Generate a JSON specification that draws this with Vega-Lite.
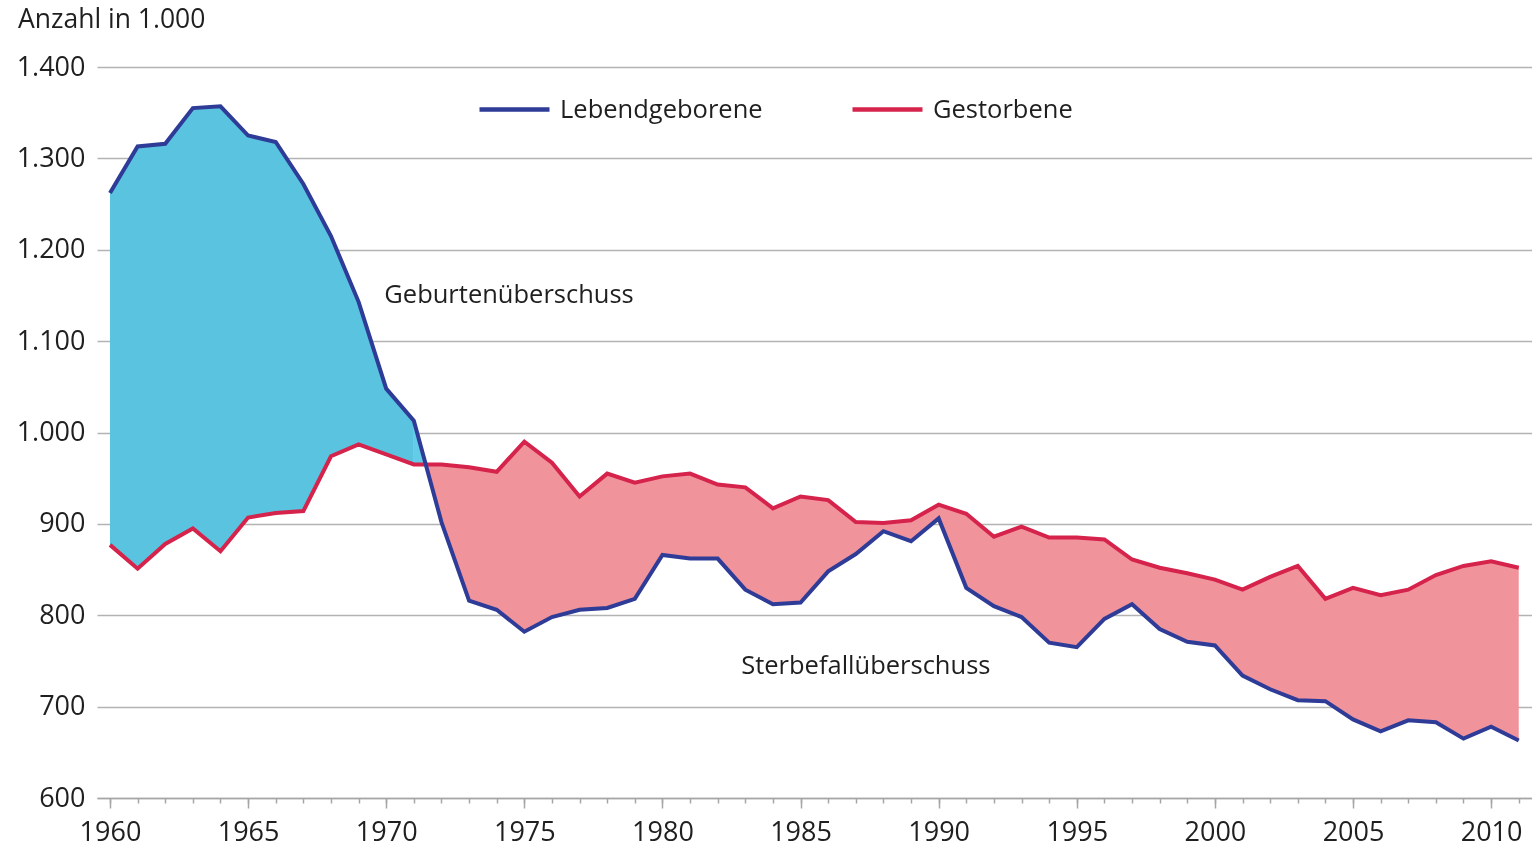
{
  "$schema": "https://vega.github.io/schema/vega-lite/v6.json",
  "width": 1435,
  "height": 731,
  "autosize": {"type": "none"},
  "padding": {"left": 97, "top": 67, "right": 0, "bottom": 50},
  "background": "white",
  "title": {"text": "Anzahl in 1.000", "anchor": "start", "frame": "group", "dx": -79, "offset": 20, "fontSize": 26.5, "font": "Open Sans", "fontWeight": "normal", "color": "#1f1f1f"},
  "config": {"view": {"stroke": null}, "font": "Open Sans"},
  "resolve": {"axis": {"x": "independent"}},
  "datasets": {
    "main": [
      {"year": 1960, "births": 1262, "deaths": 877},
      {"year": 1961, "births": 1313, "deaths": 851},
      {"year": 1962, "births": 1316, "deaths": 878},
      {"year": 1963, "births": 1355, "deaths": 895},
      {"year": 1964, "births": 1357, "deaths": 870},
      {"year": 1965, "births": 1325, "deaths": 907},
      {"year": 1966, "births": 1318, "deaths": 912},
      {"year": 1967, "births": 1272, "deaths": 914},
      {"year": 1968, "births": 1215, "deaths": 974},
      {"year": 1969, "births": 1143, "deaths": 987},
      {"year": 1970, "births": 1048, "deaths": 976},
      {"year": 1971, "births": 1013, "deaths": 965},
      {"year": 1972, "births": 902, "deaths": 965},
      {"year": 1973, "births": 816, "deaths": 962},
      {"year": 1974, "births": 806, "deaths": 957},
      {"year": 1975, "births": 782, "deaths": 990},
      {"year": 1976, "births": 798, "deaths": 967},
      {"year": 1977, "births": 806, "deaths": 930},
      {"year": 1978, "births": 808, "deaths": 955},
      {"year": 1979, "births": 818, "deaths": 945},
      {"year": 1980, "births": 866, "deaths": 952},
      {"year": 1981, "births": 862, "deaths": 955},
      {"year": 1982, "births": 862, "deaths": 943},
      {"year": 1983, "births": 828, "deaths": 940},
      {"year": 1984, "births": 812, "deaths": 917},
      {"year": 1985, "births": 814, "deaths": 930},
      {"year": 1986, "births": 848, "deaths": 926},
      {"year": 1987, "births": 867, "deaths": 902},
      {"year": 1988, "births": 892, "deaths": 901},
      {"year": 1989, "births": 881, "deaths": 904},
      {"year": 1990, "births": 906, "deaths": 921},
      {"year": 1991, "births": 830, "deaths": 911},
      {"year": 1992, "births": 810, "deaths": 886},
      {"year": 1993, "births": 798, "deaths": 897},
      {"year": 1994, "births": 770, "deaths": 885},
      {"year": 1995, "births": 765, "deaths": 885},
      {"year": 1996, "births": 796, "deaths": 883},
      {"year": 1997, "births": 812, "deaths": 861},
      {"year": 1998, "births": 785, "deaths": 852},
      {"year": 1999, "births": 771, "deaths": 846},
      {"year": 2000, "births": 767, "deaths": 839},
      {"year": 2001, "births": 734, "deaths": 828},
      {"year": 2002, "births": 719, "deaths": 842},
      {"year": 2003, "births": 707, "deaths": 854},
      {"year": 2004, "births": 706, "deaths": 818},
      {"year": 2005, "births": 686, "deaths": 830},
      {"year": 2006, "births": 673, "deaths": 822},
      {"year": 2007, "births": 685, "deaths": 828},
      {"year": 2008, "births": 683, "deaths": 844},
      {"year": 2009, "births": 665, "deaths": 854},
      {"year": 2010, "births": 678, "deaths": 859},
      {"year": 2011, "births": 663, "deaths": 852}
    ],
    "labels": [
      {"year": 1969.93, "value": 1150, "text": "Geburtenüberschuss"},
      {"year": 1982.85, "value": 745, "text": "Sterbefallüberschuss"}
    ]
  },
  "layer": [
    {
      "data": {"name": "main"},
      "transform": [{"filter": "datum.year >= 1971"}],
      "mark": {"type": "area", "color": "#f0939b"},
      "encoding": {
        "x": {
          "field": "year", "type": "quantitative",
          "scale": {"domain": [1959.53, 2011.48], "nice": false, "zero": false},
          "axis": {
            "title": null, "orient": "bottom",
            "values": [1960, 1965, 1970, 1975, 1980, 1985, 1990, 1995, 2000, 2005, 2010],
            "format": "d",
            "tickSize": 10,
            "tickColor": "#a6a6a6", "tickWidth": 1.5,
            "domainColor": "#a6a6a6", "domainWidth": 1.5,
            "grid": false,
            "labelPadding": 11,
            "labelFontSize": 27, "labelFont": "Open Sans", "labelColor": "#1f1f1f",
            "labelFlush": false, "labelOverlap": false
          }
        },
        "y": {
          "field": "births", "type": "quantitative",
          "scale": {"domain": [600, 1400], "nice": false, "zero": false},
          "axis": {
            "title": null,
            "values": [600, 700, 800, 900, 1000, 1100, 1200, 1300, 1400],
            "labelExpr": "replace(format(datum.value, ','), ',', '.')",
            "grid": true, "gridColor": "#b3b3b3", "gridWidth": 1.5,
            "domain": false, "ticks": false,
            "labelPadding": 12,
            "labelFontSize": 27, "labelFont": "Open Sans", "labelColor": "#1f1f1f"
          }
        },
        "y2": {"field": "deaths"}
      }
    },
    {
      "data": {"name": "main"},
      "transform": [{"filter": "datum.year <= 1971"}],
      "mark": {"type": "area", "color": "#59c3e0"},
      "encoding": {
        "x": {
          "field": "year", "type": "quantitative",
          "axis": {
            "title": null, "orient": "bottom",
            "values": [1960,1961,1962,1963,1964,1965,1966,1967,1968,1969,1970,1971,1972,1973,1974,1975,1976,1977,1978,1979,1980,1981,1982,1983,1984,1985,1986,1987,1988,1989,1990,1991,1992,1993,1994,1995,1996,1997,1998,1999,2000,2001,2002,2003,2004,2005,2006,2007,2008,2009,2010,2011],
            "labels": false, "domain": false, "grid": false,
            "tickSize": 5, "tickColor": "#a6a6a6", "tickWidth": 1.5
          }
        },
        "y": {"field": "births", "type": "quantitative"},
        "y2": {"field": "deaths"}
      }
    },
    {
      "data": {"name": "main"},
      "transform": [{"filter": "datum.year >= 1971 && datum.year <= 1972"}],
      "mark": {"type": "area", "color": "#59c3e0", "blend": "color"},
      "encoding": {
        "x": {"field": "year", "type": "quantitative", "axis": null},
        "y": {"field": "births", "type": "quantitative"},
        "y2": {"datum": 902}
      }
    },
    {
      "data": {"name": "main"},
      "mark": {"type": "line", "strokeWidth": 4},
      "encoding": {
        "x": {"field": "year", "type": "quantitative", "axis": null},
        "y": {"field": "deaths", "type": "quantitative"},
        "color": {
          "datum": "Gestorbene", "type": "nominal",
          "scale": {"domain": ["Lebendgeborene", "Gestorbene"], "range": ["#2e3c97", "#d5234c"]},
          "legend": {
            "orient": "none", "legendX": 380, "legendY": 5,
            "direction": "horizontal", "columns": 2, "title": null,
            "symbolType": "stroke", "symbolSize": 4900, "symbolStrokeWidth": 4.5,
            "labelFontSize": 25.5, "labelFont": "Open Sans", "labelColor": "#1f1f1f",
            "labelOffset": 8, "labelLimit": 400, "columnPadding": 80, "padding": 0
          }
        }
      }
    },
    {
      "data": {"name": "main"},
      "mark": {"type": "line", "strokeWidth": 4},
      "encoding": {
        "x": {"field": "year", "type": "quantitative", "axis": null},
        "y": {"field": "births", "type": "quantitative"},
        "color": {"datum": "Lebendgeborene", "type": "nominal"}
      }
    },
    {
      "data": {"name": "labels"},
      "mark": {"type": "text", "align": "left", "baseline": "middle", "fontSize": 25.5, "font": "Open Sans", "color": "#1f1f1f"},
      "encoding": {
        "x": {"field": "year", "type": "quantitative", "axis": null},
        "y": {"field": "value", "type": "quantitative"},
        "text": {"field": "text"}
      }
    }
  ]
}
